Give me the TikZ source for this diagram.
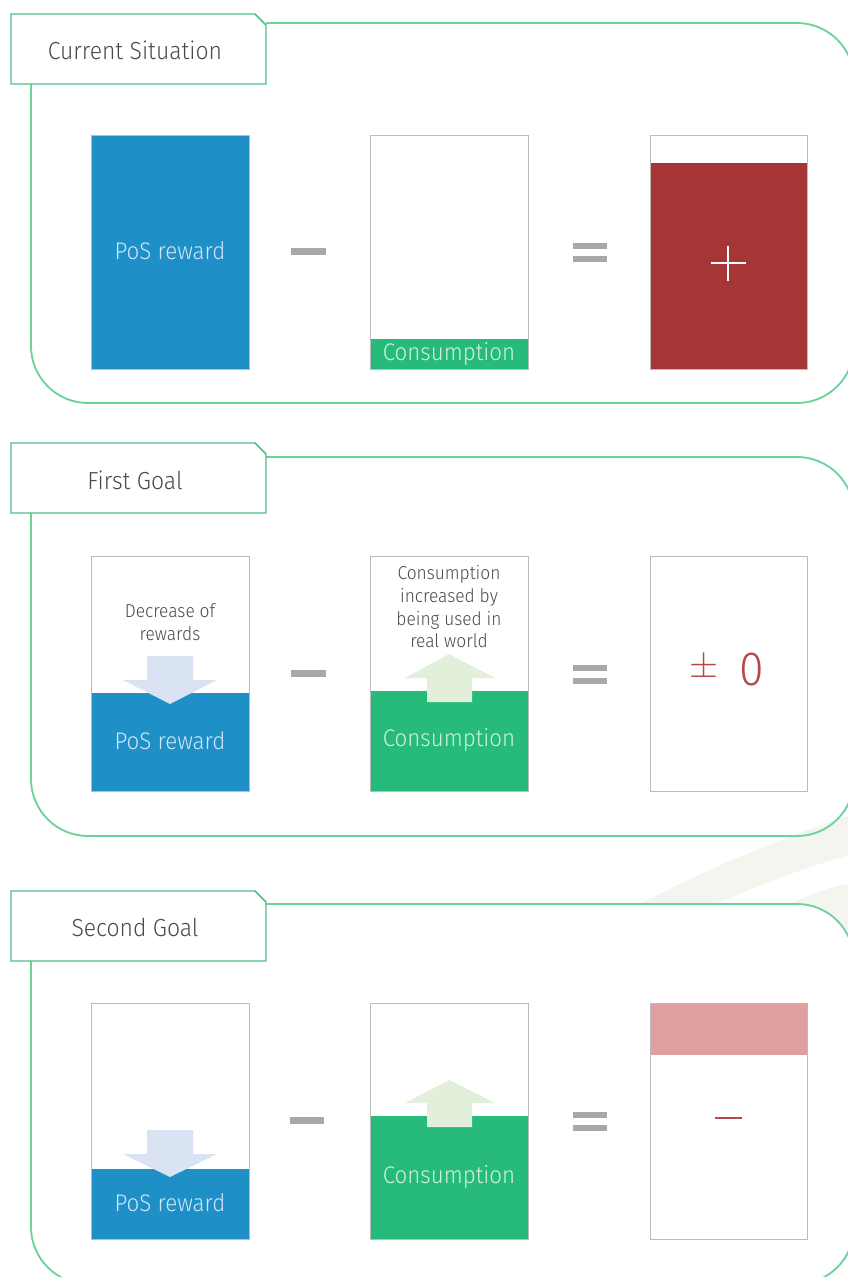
\documentclass[tikz,border=0pt]{standalone}
\usepackage{fontspec}
\setmainfont{Fira Sans Light}[FakeStretch=0.93]
\definecolor{panelgreen}{HTML}{6CD39A}
\definecolor{tabgreen}{HTML}{4CC083}
\definecolor{boxgray}{HTML}{BBBBBB}
\definecolor{posblue}{HTML}{1F8FC7}
\definecolor{consgreen}{HTML}{27BB7B}
\definecolor{redfill}{HTML}{A63636}
\definecolor{pinkfill}{HTML}{E0A0A0}
\definecolor{opgray}{HTML}{A8A8A8}
\definecolor{arrowblue}{HTML}{DAE3F3}
\definecolor{arrowgreen}{HTML}{E2EFDA}
\definecolor{textgray}{HTML}{4A4A4A}
\definecolor{redtext}{HTML}{B84848}
\definecolor{onblue}{HTML}{CFE6F5}
\definecolor{ongreen}{HTML}{D0F0DF}
\definecolor{swoosh}{HTML}{F3F5EE}
\begin{document}
\begin{tikzpicture}[x=0.75pt,y=-0.75pt,
  panel/.style={draw=panelgreen,line width=1.4pt,rounded corners=42.75pt},
  tabbox/.style={draw=tabgreen,fill=white,line width=1.1pt},
  tabtext/.style={text=textgray,font=\fontsize{18.5}{21}\selectfont,inner sep=0pt},
  boxline/.style={draw=boxgray,line width=0.65pt},
  boxlabel/.style={font=\fontsize{18}{21}\selectfont,inner sep=0pt},
  smalltext/.style={text=textgray,font=\fontsize{14}{17}\selectfont,align=center,inner sep=0pt},
  opbar/.style={fill=opgray}
]
\useasboundingbox (0,0) rectangle (848,1277);
\clip (0,0) rectangle (848,1277);

% faint background swoosh
\fill[swoosh] (640,904) .. controls (700,872) and (780,838) .. (860,812) -- (860,852) .. controls (800,868) and (760,886) .. (715,904) -- cycle;
\fill[swoosh] (790,904) .. controls (815,892) and (835,885) .. (860,882) -- (860,945) .. controls (848,928) and (830,912) .. (810,904) -- cycle;

% ---------- Panel 1 ----------
\draw[panel] (266,23) -- (854,23) -- (854,403) -- (31,403) -- (31,84);
\draw[tabbox] (11,14) -- (255,14) -- (266,25) -- (266,84) -- (11,84) -- cycle;
\node[tabtext] (t1) at (135,50) {Current Situation};

\fill[posblue] (91,135) rectangle (249,369);
\draw[boxline] (91,135) rectangle (249,369);
\node[boxlabel,text=onblue] (p1) at (170,251) {PoS reward};

\fill[opbar] (291,248) rectangle (326,255);

\fill[white] (370,135) rectangle (528,369);
\fill[consgreen] (370,339) rectangle (528,369);
\draw[boxline] (370,135) rectangle (528,369);
\node[boxlabel,text=ongreen] (c1) at (449,354) {Consumption};

\fill[opbar] (573,243) rectangle (607,249);
\fill[opbar] (573,256) rectangle (607,262);

\fill[redfill] (650,163) rectangle (807,369);
\draw[boxline] (650,135) rectangle (807,369);
\draw[white,line width=1.6pt] (710.5,263) -- (745.5,263);
\draw[white,line width=1.6pt] (728,245.5) -- (728,280.5);

% ---------- Panel 2 ----------
\draw[panel] (266,457) -- (854,457) -- (854,836) -- (31,836) -- (31,513);
\draw[tabbox] (11,443) -- (255,443) -- (266,454) -- (266,513) -- (11,513) -- cycle;
\node[tabtext] (t2) at (135,480) {First Goal};

\fill[white] (91,556) rectangle (249,791);
\fill[posblue] (91,693) rectangle (249,791);
\fill[arrowblue] (147,656) -- (193,656) -- (193,680) -- (217,680) -- (170,704) -- (123,680) -- (147,680) -- cycle;
\draw[boxline] (91,556) rectangle (249,791);
\node[smalltext] (d2) at (170,622) {Decrease of\\rewards};
\node[boxlabel,text=onblue] (p2) at (170,741) {PoS reward};

\fill[opbar] (291,670) rectangle (326,677);

\fill[white] (370,556) rectangle (528,791);
\fill[consgreen] (370,691) rectangle (528,791);
\fill[arrowgreen] (427,702) -- (472,702) -- (472,678) -- (495,678) -- (449,654) -- (405,678) -- (427,678) -- cycle;
\draw[boxline] (370,556) rectangle (528,791);
\node[smalltext] (i2) at (449,607) {Consumption\\increased by\\being used in\\real world};
\node[boxlabel,text=ongreen] (c2) at (449,740) {Consumption};

\fill[opbar] (573,665) rectangle (607,671);
\fill[opbar] (573,678) rectangle (607,684);

\draw[boxline] (650,556) rectangle (807,791);
\node[text=redtext,inner sep=0pt] (pm2) at (704,668) {\scalebox{2.8}{$\pm$}};
\node[text=redtext,font=\fontsize{36}{40}\selectfont,inner sep=0pt] (z2) at (752,670) {0};

% ---------- Panel 3 ----------
\draw[panel] (266,904) -- (854,904) -- (854,1284) -- (31,1284) -- (31,961);
\draw[tabbox] (11,891) -- (255,891) -- (266,902) -- (266,961) -- (11,961) -- cycle;
\node[tabtext] (t3) at (135,927) {Second Goal};

\fill[white] (91,1003) rectangle (249,1239);
\fill[posblue] (91,1169) rectangle (249,1239);
\fill[arrowblue] (147,1130) -- (193,1130) -- (193,1154) -- (217,1154) -- (170,1177) -- (123,1154) -- (147,1154) -- cycle;
\draw[boxline] (91,1003) rectangle (249,1239);
\node[boxlabel,text=onblue] (p3) at (170,1203) {PoS reward};

\fill[opbar] (290,1117) rectangle (324,1124);

\fill[white] (370,1003) rectangle (528,1239);
\fill[consgreen] (370,1116) rectangle (528,1239);
\fill[arrowgreen] (427,1127) -- (472,1127) -- (472,1103) -- (495,1103) -- (449,1080) -- (405,1103) -- (427,1103) -- cycle;
\draw[boxline] (370,1003) rectangle (528,1239);
\node[boxlabel,text=ongreen] (c3) at (449,1177) {Consumption};

\fill[opbar] (573,1112) rectangle (607,1118);
\fill[opbar] (573,1125) rectangle (607,1131);

\fill[pinkfill] (650,1003) rectangle (807,1055);
\draw[boxline] (650,1003) rectangle (807,1239);
\draw[redtext,line width=1.8pt] (715,1118) -- (742,1118);
\end{tikzpicture}
\end{document}
